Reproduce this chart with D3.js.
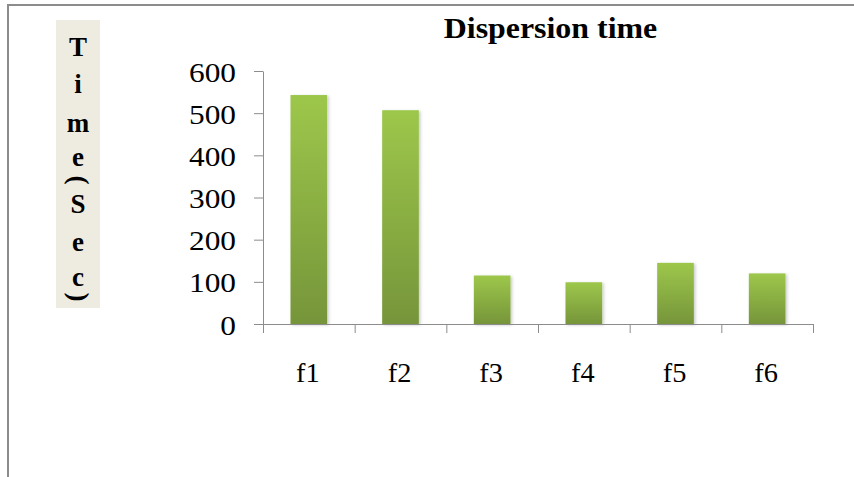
<!DOCTYPE html>
<html>
<head>
<meta charset="utf-8">
<script src="https://cdn.jsdelivr.net/npm/d3@7"></script>
<style>
  html, body { margin: 0; padding: 0; background: #fff; }
  svg { display: block; }
</style>
</head>
<body>
<svg id="chart" width="854" height="477"></svg>
<script>
// Dispersion time per formulation (seconds)
const categories = ["f1", "f2", "f3", "f4", "f5", "f6"];
const values = [543, 507, 115, 99, 145, 120];
const yTicks = [0, 100, 200, 300, 400, 500, 600];
const titleText = "Dispersion time";
const yLabelChars = ["T", "i", "m", "e", "(", "S", "e", "c", ")"];

const svg = d3.select("#chart");
const serif = "'Liberation Serif', 'Times New Roman', serif";

const plotLeft = 263, plotRight = 813, plotTop = 71, plotBottom = 324;

// outer frame (top and left edges)
svg.append("path")
  .attr("d", `M8,477 L8,5 L854,5`)
  .attr("fill", "none")
  .attr("stroke", "#8c8c8c")
  .attr("stroke-width", 2);

const defs = svg.append("defs");
const grad = defs.append("linearGradient")
  .attr("id", "barFill").attr("x1", 0).attr("y1", 0).attr("x2", 0).attr("y2", 1);
grad.append("stop").attr("offset", "0%").attr("stop-color", "#9dc74b");
grad.append("stop").attr("offset", "100%").attr("stop-color", "#76953a");

const shadow = defs.append("filter").attr("id", "barShadow")
  .attr("x", "-20%").attr("y", "-5%").attr("width", "150%").attr("height", "115%");
shadow.append("feDropShadow")
  .attr("dx", 1.5).attr("dy", 1).attr("stdDeviation", 1.5)
  .attr("flood-color", "#000").attr("flood-opacity", 0.22);

const y = d3.scaleLinear().domain([0, 600]).range([plotBottom, plotTop]);
const x = d3.scaleBand().domain(categories).range([plotLeft, plotRight])
  .paddingInner(0.6).paddingOuter(0.3);
const slots = d3.scaleLinear().domain([0, categories.length]).range([plotLeft, plotRight]);

// bars
svg.append("g").selectAll("rect")
  .data(categories.map((c, i) => ({ c, v: values[i] })))
  .join("rect")
  .attr("x", d => x(d.c))
  .attr("y", d => y(d.v))
  .attr("width", x.bandwidth())
  .attr("height", d => plotBottom - y(d.v))
  .attr("fill", "url(#barFill)")
  .attr("filter", "url(#barShadow)");

// y axis
const yAxis = svg.append("g")
  .attr("transform", `translate(${plotLeft},0)`)
  .call(d3.axisLeft(y).tickValues(yTicks).tickSize(9).tickSizeOuter(0).tickFormat(d3.format("d")));
yAxis.select(".domain").attr("stroke", "#8c8c8c");
yAxis.selectAll(".tick line").attr("stroke", "#8c8c8c");
yAxis.selectAll(".tick text")
  .attr("x", 0).attr("dy", null)
  .attr("transform", "translate(-27,10) scale(1.12,1)")
  .attr("text-anchor", "end")
  .attr("fill", "#000")
  .style("font-family", serif)
  .style("font-size", "28px");

// x axis with ticks on the category boundaries
const xAxis = svg.append("g")
  .attr("transform", `translate(0,${plotBottom})`)
  .call(d3.axisBottom(slots).tickValues(d3.range(categories.length + 1)).tickSize(9).tickSizeOuter(0).tickFormat(""));
xAxis.select(".domain").attr("stroke", "#8c8c8c");
xAxis.selectAll(".tick line").attr("stroke", "#8c8c8c");

// category labels
svg.append("g").selectAll("text")
  .data(categories)
  .join("text")
  .attr("transform", d => `translate(${x(d) + x.bandwidth() / 2 - 1},382) scale(1.05,1)`)
  .attr("text-anchor", "middle")
  .style("font-family", serif)
  .style("font-size", "27px")
  .attr("fill", "#000")
  .text(d => d);

// title
svg.append("text")
  .attr("transform", "translate(550.5,38) scale(1.1,1)")
  .attr("text-anchor", "middle")
  .style("font-family", serif)
  .style("font-size", "29px")
  .style("font-weight", "bold")
  .attr("fill", "#000")
  .text(titleText);

// stacked y-axis title on a beige panel
svg.append("rect")
  .attr("x", 56).attr("y", 20).attr("width", 44).attr("height", 288)
  .attr("fill", "#eeece1");

const labelYs = [56, 93, 131.5, 166, 180, 213, 250.5, 286, 297];
const yl = svg.append("g")
  .style("font-family", serif)
  .style("font-size", "27px")
  .style("font-weight", "bold")
  .attr("fill", "#000");
yLabelChars.forEach((ch, i) => {
  const isParen = ch === "(" || ch === ")";
  const t = yl.append("text")
    .attr("text-anchor", "middle")
    .text(ch);
  if (isParen) {
    // parentheses are turned sideways in the vertical stack
    t.attr("x", 0).attr("y", 0)
      .attr("dy", "0.3em")
      .attr("transform", `translate(78,${labelYs[i]}) rotate(90)`);
  } else {
    t.attr("x", 78).attr("y", labelYs[i]);
  }
});
</script>
</body>
</html>
